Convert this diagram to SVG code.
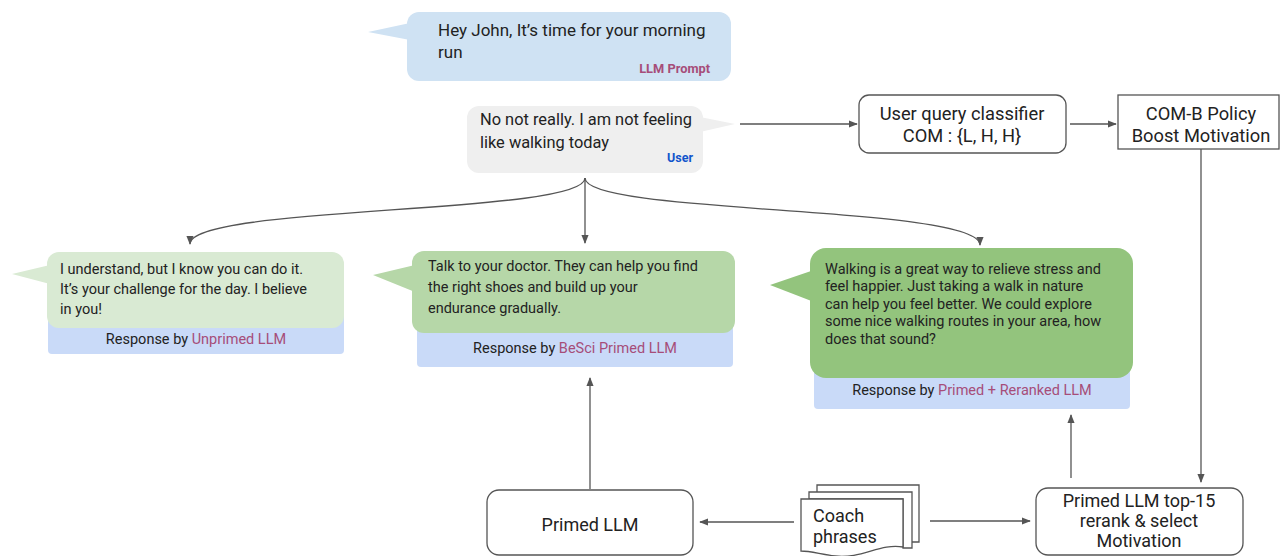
<svg xmlns="http://www.w3.org/2000/svg" width="1280" height="556" viewBox="0 0 1280 556">
<defs>
<style>
text{font-family:Roboto,"Liberation Sans",sans-serif;fill:#222}
.rsp{font-size:14.5px}
.pink{fill:#a64d79}
.node{fill:#fff;stroke:#555;stroke-width:1.3}
.conn{fill:none;stroke:#555;stroke-width:1.3}
.mid{text-anchor:middle}
.nl{font-size:18.3px}
.nb{font-size:18px}
</style>
<marker id="ah" viewBox="0 0 10 8" refX="9" refY="4" markerWidth="9" markerHeight="7.2" markerUnits="userSpaceOnUse" orient="auto">
<path d="M0,0 L10,4 L0,8 z" fill="#555"/>
</marker>
</defs>
<rect width="1280" height="556" fill="#fff"/>

<g id="llm-prompt">
<rect x="407" y="12" width="324" height="69" rx="12" fill="#cfe2f3"/>
<polygon points="410,23 368,32 410,40" fill="#cfe2f3"/>
<text x="438" y="36" font-size="17">Hey John, It’s time for your morning</text>
<text x="438" y="58" font-size="17">run</text>
<text x="710" y="73" text-anchor="end" font-size="12.8" font-weight="bold" class="pink">LLM Prompt</text>
</g>

<g id="user">
<rect x="467" y="106" width="236" height="67" rx="12" fill="#efefef"/>
<polygon points="700,117 735,124 700,132" fill="#efefef"/>
<text x="480" y="125" font-size="16.4">No not really. I am not feeling</text>
<text x="480" y="148" font-size="16.4">like walking today</text>
<text x="693" y="162" text-anchor="end" font-size="12.5" font-weight="bold" style="fill:#1155cc">User</text>
</g>

<g id="classifier">
<rect class="node" x="859" y="95" width="207" height="58" rx="10"/>
<text class="nl mid" x="962" y="120">User query classifier</text>
<text class="nl mid" x="962" y="142">COM : {L, H, H}</text>
</g>

<g id="comb-policy">
<rect class="node" x="1118" y="95" width="161" height="54"/>
<text class="nl mid" x="1201" y="120">COM-B Policy</text>
<text class="nl mid" x="1201" y="142">Boost Motivation</text>
</g>

<g id="unprimed">
<rect x="48" y="300" width="296" height="54" rx="4" fill="#c9daf8"/>
<rect x="47" y="252" width="297" height="76" rx="12" fill="#d9ead3"/>
<polygon points="50,265 12,274 50,284" fill="#d9ead3"/>
<text class="rsp" x="60" y="274">I understand, but I know you can do it.</text>
<text class="rsp" x="60" y="294">It’s your challenge for the day. I believe</text>
<text class="rsp" x="60" y="314">in you!</text>
<text class="rsp mid" x="196" y="344">Response by <tspan class="pink">Unprimed LLM</tspan></text>
</g>

<g id="besci">
<rect x="417" y="310" width="316" height="57" rx="4" fill="#c9daf8"/>
<rect x="412" y="251" width="323" height="82" rx="12" fill="#b6d7a8"/>
<polygon points="415,265 373,275 415,292" fill="#b6d7a8"/>
<text class="rsp" x="428" y="271">Talk to your doctor. They can help you find</text>
<text class="rsp" x="428" y="292">the right shoes and build up your</text>
<text class="rsp" x="428" y="313">endurance gradually.</text>
<text class="rsp mid" x="575" y="353">Response by <tspan class="pink">BeSci Primed LLM</tspan></text>
</g>

<g id="reranked">
<rect x="814" y="350" width="316" height="59" rx="4" fill="#c9daf8"/>
<rect x="810" y="248" width="323" height="130" rx="16" fill="#93c47d"/>
<polygon points="814,270 770,285 814,302" fill="#93c47d"/>
<text class="rsp" x="825" y="274">Walking is a great way to relieve stress and</text>
<text class="rsp" x="825" y="291">feel happier. Just taking a walk in nature</text>
<text class="rsp" x="825" y="309">can help you feel better. We could explore</text>
<text class="rsp" x="825" y="326">some nice walking routes in your area, how</text>
<text class="rsp" x="825" y="344">does that sound?</text>
<text class="rsp mid" x="972" y="395">Response by <tspan class="pink">Primed + Reranked LLM</tspan></text>
</g>

<g id="primed-llm">
<rect class="node" x="487" y="490" width="206" height="65" rx="12"/>
<text class="nb mid" x="590" y="531">Primed LLM</text>
</g>

<g id="coach-phrases">
<path class="node" d="M817,485 H919 V542 H905 V499 H817 Z"/>
<path class="node" d="M809,492 H912 V548 H903 V499 H809 Z"/>
<path class="node" d="M801,499 H903 V547 C880,543 862,559 835,556 C820,554 810,551 801,551 Z"/>
<text class="nb" x="813" y="522">Coach</text>
<text class="nb" x="813" y="543">phrases</text>
</g>

<g id="rerank">
<rect class="node" x="1036" y="488" width="207" height="67" rx="12"/>
<text class="nb mid" x="1139" y="507">Primed LLM top-15</text>
<text class="nb mid" x="1139" y="527">rerank &amp; select</text>
<text class="nb mid" x="1139" y="547">Motivation</text>
</g>

<g id="connectors">
<path class="conn" d="M740,124 H857" marker-end="url(#ah)"/>
<path class="conn" d="M1070,124 H1116" marker-end="url(#ah)"/>
<path class="conn" d="M1201,149 V482" marker-end="url(#ah)"/>
<path class="conn" d="M585,178 V243" marker-end="url(#ah)"/>
<path class="conn" d="M585,178 C585,215 190,205 190,244" marker-end="url(#ah)"/>
<path class="conn" d="M585,178 C585,215 980,205 980,245" marker-end="url(#ah)"/>
<path class="conn" d="M590,489 V378" marker-end="url(#ah)"/>
<path class="conn" d="M1071,478 V415" marker-end="url(#ah)"/>
<path class="conn" d="M794,522 H700" marker-end="url(#ah)"/>
<path class="conn" d="M930,521 H1030" marker-end="url(#ah)"/>
</g>
</svg>
